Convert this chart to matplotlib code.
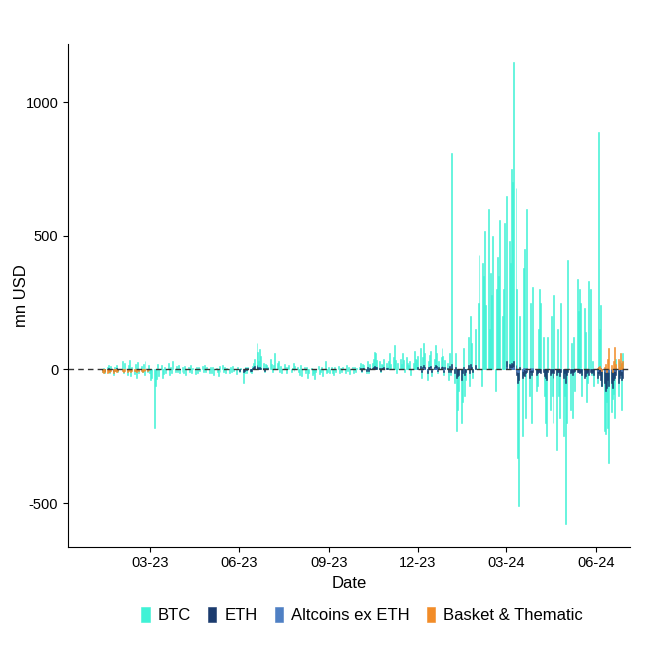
import matplotlib
matplotlib.use("Agg")
import matplotlib.pyplot as plt
import matplotlib.dates as mdates
import pandas as pd
import numpy as np

plt.rcParams["font.family"] = "Liberation Sans"

start_days = {"2023-01": 11}

btc = {
"2023-01":[-8,5,-12,10,-5,18,-15,12,-20,8,-6,15,-10],
"2023-02":[30,-12,25,-20,15,35,-25,10,-18,22,-30,28,-15,12,-8,20,-22,30,-10,15],
"2023-03":[-15,-40,-30,-220,-60,-35,20,-25,15,-30,-18,10,-12,25,-20,8,-15,30,-10,12,-8,15,-12],
"2023-04":[-10,8,-15,12,-20,10,-8,15,-12,6,-18,10,-14,8,-6,12,-10,18,-8,10],
"2023-05":[-12,8,-15,10,-20,6,-10,-25,12,-8,15,-10,8,-12,6,-15,10,-8,12,-5,-18,8],
"2023-06":[-10,6,-50,-15,8,-12,10,-8,-15,12,25,40,100,65,30,75,50,25,-10,20,15,10],
"2023-07":[40,20,-10,15,60,25,30,-8,12,-15,20,10,-12,8,15,-10,6,25,-5,12,8],
"2023-08":[-10,-20,15,-25,10,-15,8,-30,-12,6,-20,-15,-35,-10,12,-18,-8,10,-25,30,-15,-10,8],
"2023-09":[-12,8,-15,-20,10,-8,12,-15,6,-10,8,-12,15,-6,10,-18,8,-12,10,-8,6],
"2023-10":[10,25,-10,20,15,-12,30,8,-15,20,25,40,65,60,35,30,-10,20,15,40,25,10],
"2023-11":[30,60,20,45,90,35,-15,25,40,20,60,35,-10,45,25,15,30,-20,25,70,40,35],
"2023-12":[50,80,-30,45,100,60,-40,30,55,70,-25,40,90,60,-15,30,45,80,50,-20,35],
"2024-01":[25,-40,60,-20,810,-50,60,-230,-150,-80,-200,-120,80,-100,-40,120,-60,200,100,-30,150],
"2024-02":[250,430,-60,400,350,520,240,600,150,360,280,500,-80,300,420,350,560,200,300,550],
"2024-03":[650,480,400,750,700,1150,680,300,-330,-510,200,-250,380,450,-180,600,-100,250,-200,310],
"2024-04":[-80,-60,150,300,250,120,-100,-200,-250,120,-150,200,-100,-200,280,-300,150,-100,-180,250,-250,-100],
"2024-05":[-580,-200,410,-150,100,-180,120,-80,340,220,300,250,-100,230,140,-120,-50,330,300,-20,30,-60],
"2024-06":[-50,890,150,240,-60,-230,-240,-120,-220,-350,-160,-110,-90,-180,40,-100,30,20,-150,60],
}
eth = {
"2023-01":[-3,2,-4,3,-2,4,-3,2,-5,3,-2,4,-3],
"2023-06":[-5,3,-8,-4,6,-3,5,-6,-4,5,8,12,15,10,6,8,5,4,-6,5,3,4],
"2023-10":[3,6,-4,5,4,-5,8,3,-6,5,6,10,12,10,8,6,-5,6,4,10,6,4],
"2023-12":[8,12,-10,8,15,10,-12,8,10,12,-8,10,15,12,-6,8,10,14,10,-8,8],
"2024-01":[6,-10,12,-8,20,-15,10,-30,-25,-20,-40,-15,10,-20,-10,15,-12,20,10,-8,15],
"2024-03":[30,20,15,25,20,30,15,-20,-50,-40,10,-30,-20,-25,-15,-10,-30,-8,-20,-10],
"2024-04":[-20,-15,-10,-8,-12,-10,-25,-30,-40,-10,-20,-15,-10,-30,-15,-20,-10,-8,-25,-10,-30,-15],
"2024-05":[-50,-20,-10,-15,-8,-20,-10,-6,-10,-8,-15,-10,-20,-30,-25,-15,-10,-20,-10,-15,-8,-20],
"2024-06":[-30,-15,-20,-40,-60,-50,-80,-70,-40,-60,-50,-70,-40,-30,-20,-50,-30,-20,-40,-30],
}
alt = {
"2023-12":[2,3,-2,2,4,3,-3,2,3,4,-2,3,4,3,-2,2,3,4,3,-2,2],
"2024-03":[8,5,4,6,5,8,4,-5,-10,-8,3,-6,4,5,-3,6,-2,4,-3,5],
"2024-06":[-5,8,4,6,-4,-6,-8,-5,-6,-10,-5,-4,-3,-6,4,-3,3,2,-5,4],
}
basket = {
"2023-01":[-10,-12,-8,-15,-6,-10,-8,-5,-12,-6,-4,-8,-5],
"2023-02":[-6,-8,-4,-10,-5,-3,-8,-6,-4,-5,-10,-3,-6,-4,-8,-5,-3,-6,-4,-2],
"2024-06":[5,8,12,6,-5,10,20,-8,40,80,15,-10,30,85,20,40,10,60,25,30],
}

colors = {"BTC":"#40F2D6","ETH":"#1B3B6E","Altcoins ex ETH":"#4F80C4","Basket & Thematic":"#F28C28"}

def series(d):
    xs, ys = [], []
    for m, vals in d.items():
        st = pd.Timestamp(m + "-%02d" % start_days.get(m, 1))
        dates = pd.bdate_range(st, pd.Timestamp(m + "-01") + pd.offsets.MonthEnd(0))
        for dt, v in zip(dates, vals):
            xs.append(dt); ys.append(v)
    return xs, ys

fig = plt.figure(figsize=(6.61, 6.61), dpi=100)
ax = fig.add_axes([0.103, 0.173, 0.85, 0.76])
for name, d in [("BTC", btc), ("ETH", eth), ("Altcoins ex ETH", alt), ("Basket & Thematic", basket)]:
    xs, ys = series(d)
    ax.bar(xs, ys, width=1.0, color=colors[name], label=name, edgecolor=colors[name], linewidth=0.4)

ax.axhline(0, color="#333333", linestyle=(0, (4, 3)), linewidth=1)
ax.set_xlim(pd.Timestamp("2022-12-07"), pd.Timestamp("2024-07-06"))
ax.set_ylim(-663, 1217)
ax.set_yticks([-500, 0, 500, 1000])
ax.set_yticklabels(["-500", "0", "500", "1000"])
ax.xaxis.set_major_locator(mdates.MonthLocator(bymonth=[3, 6, 9, 12]))
ax.xaxis.set_major_formatter(mdates.DateFormatter("%m-%y"))
for s in ["top", "right"]:
    ax.spines[s].set_visible(False)
for s in ["left", "bottom"]:
    ax.spines[s].set_color("black")
ax.tick_params(labelsize=10.5, colors="black")
ax.set_xlabel("Date", fontsize=12)
ax.set_ylabel("mn USD", fontsize=12)
ax.yaxis.set_label_coords(-0.07, 0.5)
fig.legend(loc="lower center", bbox_to_anchor=(0.548, 0.035), ncol=4, frameon=False,
           fontsize=12, handlelength=0.5, handleheight=1.0, handletextpad=0.5, columnspacing=1.0)
fig.savefig("out.png", dpi=100, facecolor="white")
